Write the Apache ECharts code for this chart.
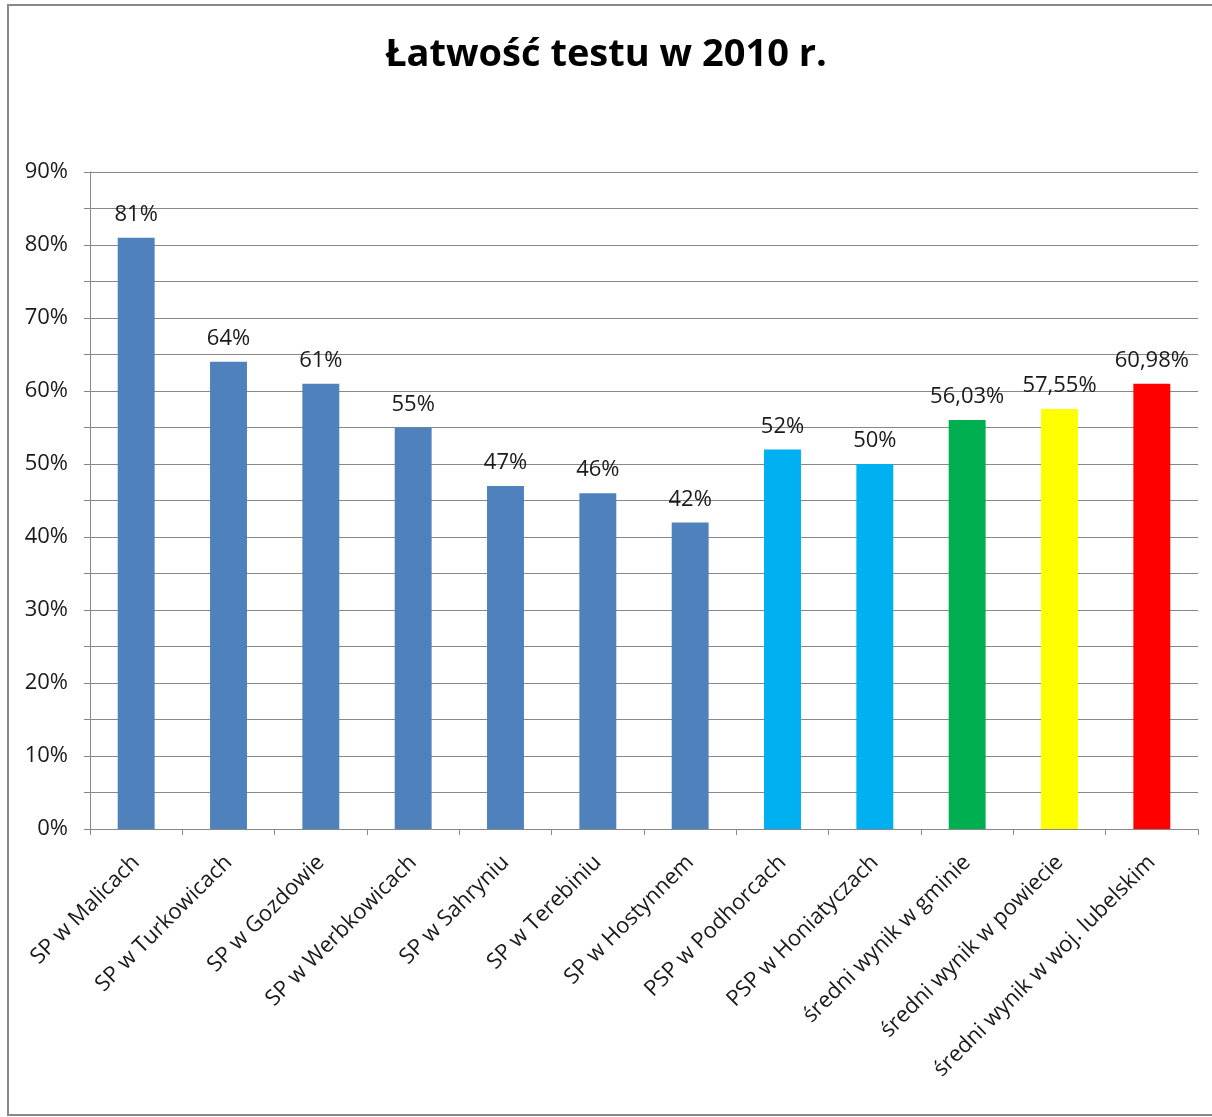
<!DOCTYPE html>
<html><head><meta charset="utf-8">
<script src="https://cdn.jsdelivr.net/npm/echarts@6/dist/echarts.min.js"></script>
<style>html,body{margin:0;padding:0;background:#fff}#c{width:1212px;height:1117px}</style>
</head><body><div id="c"></div>
<script>
const categories = ['SP w Malicach','SP w Turkowicach','SP w Gozdowie','SP w Werbkowicach','SP w Sahryniu','SP w Terebiniu','SP w Hostynnem','PSP w Podhorcach','PSP w Honiatyczach','średni wynik w gminie','średni wynik w powiecie','średni wynik w woj. lubelskim'];
const values = [81,64,61,55,47,46,42,52,50,56.03,57.55,60.98];
const colors = ['#4F81BD','#4F81BD','#4F81BD','#4F81BD','#4F81BD','#4F81BD','#4F81BD','#00B0F0','#00B0F0','#00B050','#FFFF00','#FF0000'];
const fontFam = '"Open Sans", "Noto Sans", sans-serif';
const chart = echarts.init(document.getElementById('c'));
chart.setOption({
  animation:false,
  backgroundColor:'#fff',
  title:{text:'Łatwość testu w 2010 r.',left:'center',top:31,textStyle:{fontFamily:fontFam,fontSize:38,fontWeight:'bold',color:'#000'}},
  graphic:[{type:'rect',shape:{x:8,y:5,width:1220,height:1110},style:{fill:'none',stroke:'#888',lineWidth:2},silent:true}],
  grid:{left:90,right:14,top:172,bottom:288},
  xAxis:{type:'category',data:categories,
    axisLine:{lineStyle:{color:'#888'}},
    axisTick:{show:true,length:6,lineStyle:{color:'#888'}},
    axisLabel:{rotate:45,interval:0,fontFamily:fontFam,fontSize:22,color:'#1a1a1a',margin:30}},
  yAxis:{type:'value',min:0,max:90,interval:5,
    axisLine:{show:true,lineStyle:{color:'#888'}},
    axisTick:{show:true,length:6,lineStyle:{color:'#888'}},
    splitLine:{lineStyle:{color:'#888',width:1}},
    axisLabel:{fontFamily:fontFam,fontSize:22,color:'#1a1a1a',margin:22,formatter:v=>(v%10===0?v+'%':'')}},
  series:[{type:'bar',barWidth:'40%',
    data:values.map((v,i)=>({value:v,itemStyle:{color:colors[i]}})),
    label:{show:true,position:'top',distance:12,fontFamily:fontFam,fontSize:22,color:'#1a1a1a',
      formatter:p=>Number.isInteger(p.value)?p.value+'%':p.value.toFixed(2).replace('.',',')+'%'}}]
});
</script></body></html>
